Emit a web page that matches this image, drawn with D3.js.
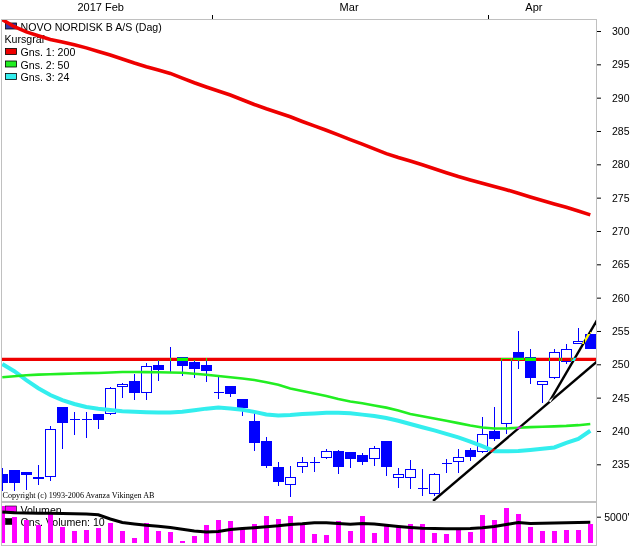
<!DOCTYPE html>
<html><head><meta charset="utf-8">
<script src="https://cdn.jsdelivr.net/npm/d3@7"></script>
<style>
html,body{margin:0;padding:0;background:#fff;}
svg{display:block;}
text{font-family:"Liberation Sans",Arial,sans-serif;fill:#000;}
</style></head><body>
<svg id="c" width="632" height="547"></svg>
<script>
// ---------- data ----------
const dates = ["2017-02-03","2017-02-06","2017-02-07","2017-02-08","2017-02-09","2017-02-10","2017-02-13","2017-02-14","2017-02-15","2017-02-16","2017-02-17","2017-02-20","2017-02-21","2017-02-22","2017-02-23","2017-02-24","2017-02-27","2017-02-28",
"2017-03-01","2017-03-02","2017-03-03","2017-03-06","2017-03-07","2017-03-08","2017-03-09","2017-03-10","2017-03-13","2017-03-14","2017-03-15","2017-03-16","2017-03-17","2017-03-20","2017-03-21","2017-03-22","2017-03-23","2017-03-24","2017-03-27","2017-03-28","2017-03-29","2017-03-30","2017-03-31",
"2017-04-03","2017-04-04","2017-04-05","2017-04-06","2017-04-07","2017-04-10","2017-04-11","2017-04-12","2017-04-18"];
const open  = [233.55,234.15,233.8,233.0,233.3,243.55,241.8,241.8,242.55,242.75,246.75,247.5,245.9,249.9,248.9,251.05,250.3,249.9,245.9,246.75,244.8,241.5,238.5,234.65,232.1,234.8,235.4,236.15,237.0,236.8,236.4,235.9,238.5,233.15,233.15,231.5,230.75,235.15,235.55,237.15,237.05,240.05,241.15,251.8,251.05,247.05,248.05,250.5,253.15,254.5];
const high  = [234.45,234.2,233.8,234.85,240.75,243.55,242.8,242.8,242.55,246.55,247.25,248.6,250.25,250.65,252.55,251.1,250.65,250.9,248.05,246.8,244.85,242.75,239.15,235.4,234.75,236.15,236.15,237.3,237.15,236.85,236.65,237.75,238.55,234.5,235.65,234.25,233.7,235.75,237.25,237.4,242.15,243.55,250.9,255.0,252.25,247.55,252.25,253.05,255.4,254.9];
const low   = [231.15,231.15,231.25,232.05,232.65,237.4,239.5,239.15,240.4,242.6,245.05,244.75,244.75,247.6,248.9,248.4,248.15,247.55,244.9,245.25,242.4,237.15,234.65,231.9,230.25,233.9,233.95,235.9,233.75,234.65,235.05,234.9,233.4,231.65,231.4,230.4,230.4,233.8,233.9,235.65,236.9,238.65,239.75,249.4,247.15,244.4,247.9,250.15,253.15,252.4];
const close = [232.4,232.4,233.5,233.05,240.25,241.4,241.8,241.8,241.75,246.4,247.05,245.9,249.75,249.3,248.9,249.9,249.5,249.15,245.9,245.75,243.65,238.4,234.9,232.5,233.1,235.4,235.4,237.0,234.75,236.0,235.55,237.5,234.75,233.5,234.3,231.5,233.55,235.15,236.05,236.3,239.5,238.9,250.9,250.75,248.05,247.5,251.8,252.25,253.55,252.4];

const ma200 = [301.71,300.64,299.86,299.3,298.74,298.34,297.94,297.47,296.93,296.39,295.79,295.19,294.64,294.14,293.64,292.94,292.23,291.59,290.99,290.39,289.68,288.98,288.33,287.73,287.13,286.43,285.77,285.11,284.42,283.71,283.02,282.32,281.61,281.02,280.49,279.93,279.33,278.73,278.17,277.66,277.16,276.68,276.2,275.66,275.1,274.56,274.05,273.56,273.0,272.42];
const ma50  = [248.06,248.22,248.37,248.45,248.5,248.57,248.63,248.67,248.7,248.78,248.85,248.84,248.82,248.81,248.78,248.73,248.58,248.43,248.25,248.07,247.86,247.65,247.31,246.95,246.38,246.0,245.63,245.25,244.8,244.43,244.16,243.83,243.5,243.08,242.55,242.2,241.87,241.54,241.18,240.82,240.51,240.37,240.37,240.49,240.57,240.64,240.69,240.76,240.87,241.05];
const ma24  = [250.05,248.96,247.62,246.42,245.39,244.64,244.05,243.6,243.33,243.15,242.97,242.9,242.82,242.76,242.78,242.88,243.12,243.35,243.51,243.38,243.18,242.87,242.46,242.33,242.4,242.54,242.63,242.72,242.72,242.66,242.45,242.24,241.95,241.53,241.04,240.56,240.08,239.57,239.03,238.41,237.71,236.97,236.96,237.0,237.15,237.32,237.53,238.2,238.82,240.03];

const volume = [7000,5000,4360,3390,5970,3060,2290,2420,2870,3720,2290,810,3720,2290,2090,290,1320,3390,4360,4170,2870,3590,5190,4550,5190,3390,1650,1450,4170,2290,5190,1900,3390,3060,3590,3590,1900,1650,2420,2090,5330,4360,6630,5520,3060,2290,2290,2420,2420,3590];
const volMA  = [5910,5775,5717,5680,5660,5600,5562,5504,5368,4554,3876,3585,3333,3140,2888,2558,2229,2035,2112,2520,2713,2868,3062,3236,3469,3624,3837,3837,3682,3527,3682,3585,3333,3100,2907,2752,2713,2674,2674,2713,2849,3100,3488,3876,3682,3740,3779,3818,3857,3915];

const priceTicks = [300,295,290,285,280,275,270,265,260,255,250,245,240,235];
const volTicks = [5000];
const monthNames = ["2017 Feb","Mar","Apr"];
const monthLabelAt = [8.2, 28.9, 44.3];
const monthBreaks = [17.5, 40.5];
const levelLine = 250.75;
const trendA = [[35.9,229.5],[49.55,250.4]];
const trendB = [[45.6,244.4],[49.55,256.6]];
const legendMain = [
  {label:"NOVO NORDISK B A/S (Dag)", color:"#3434a8"},
  {label:"Kursgraf", color:null},
  {label:"Gns. 1: 200", color:"#ee0000"},
  {label:"Gns. 2: 50", color:"#22ee22"},
  {label:"Gns. 3: 24", color:"#33eeee"}
];
const legendVol = [
  {label:"Volumen", color:"#ff00ff"},
  {label:"Gns. Volumen: 10", color:"#000000"}
];

// ---------- scales ----------
const svg = d3.select("#c");
svg.append("rect").attr("width",632).attr("height",547).attr("fill","#fff");

const x = d3.scaleLinear().domain([0, dates.length-1]).range([2.3, 590.3]);
const y = d3.scaleLinear().domain([235,300]).range([464.3,31]);
const yv = d3.scaleLinear().domain([0,5000]).range([542.5,516.7]);

const defs = svg.append("defs");
defs.append("clipPath").attr("id","cp").append("rect").attr("x",2).attr("y",20).attr("width",594).attr("height",481);
defs.append("clipPath").attr("id","cv").append("rect").attr("x",2).attr("y",503).attr("width",594).attr("height",42);

// ---------- frames ----------
svg.append("rect").attr("x",1.5).attr("y",19.5).attr("width",595).attr("height",482)
  .attr("fill","none").attr("stroke","#c0c0c0");
svg.append("rect").attr("x",1.5).attr("y",502.5).attr("width",595).attr("height",43)
  .attr("fill","none").attr("stroke","#c0c0c0");

// ---------- top month axis ----------
const gTop = svg.append("g");
gTop.selectAll("line").data(monthBreaks).join("line")
  .attr("x1", d => Math.round(x(d))+0.5).attr("x2", d => Math.round(x(d))+0.5)
  .attr("y1",15).attr("y2",19).attr("stroke","#000");
gTop.selectAll("text").data(monthNames).join("text")
  .attr("x",(d,k)=>x(monthLabelAt[k])).attr("y",11)
  .attr("text-anchor","middle").style("font-size","11px").text(d=>d);

// ---------- right axes ----------
const axP = svg.append("g").attr("transform","translate(597,0)")
  .call(d3.axisRight(y).tickValues(priceTicks).tickSize(4).tickFormat(d3.format("d")));
axP.select(".domain").remove();
axP.selectAll("text").attr("x",32.5).attr("text-anchor","end").style("font-size","10.5px")
  .style("font-family","'Liberation Sans',Arial,sans-serif").attr("fill","#000");
const axV = svg.append("g").attr("transform","translate(597,0)")
  .call(d3.axisRight(yv).tickValues(volTicks).tickSize(4).tickFormat(d => d+"'"));
axV.select(".domain").remove();
axV.selectAll("text").attr("x",32.5).attr("text-anchor","end").style("font-size","10.5px")
  .style("font-family","'Liberation Sans',Arial,sans-serif").attr("fill","#000");

// ---------- legends ----------
const gL = svg.append("g");
const rowY = [30.5, 43.3, 56, 68.5, 81];
legendMain.forEach((d,k)=>{
  if (d.color) {
    gL.append("rect").attr("x",5.5).attr("y",rowY[k]-7.5).attr("width",11).attr("height",6)
      .attr("fill",d.color).attr("stroke","#000").attr("stroke-width",0.8);
  }
  gL.append("text").attr("x", d.color ? 20.5 : 4.5).attr("y",rowY[k])
    .style("font-size","10.6px").text(d.label);
});
const rowYV = [513.5, 526];
legendVol.forEach((d,k)=>{
  gL.append("rect").attr("x",5.5).attr("y",rowYV[k]-7.5).attr("width",11).attr("height",6)
    .attr("fill",d.color).attr("stroke","#000").attr("stroke-width",0.6);
  gL.append("text").attr("x",20.5).attr("y",rowYV[k]).style("font-size","10.6px").text(d.label);
});
svg.append("text").attr("x",2.5).attr("y",497.5)
  .style("font-family","'Liberation Serif','Times New Roman',serif").style("font-size","9px")
  .attr("textLength",152).attr("lengthAdjust","spacingAndGlyphs")
  .text("Copyright (c) 1993-2006 Avanza Vikingen AB");

// ---------- candles ----------
const candles = dates.map((d,i)=>({i, o:open[i], h:high[i], l:low[i], c:close[i]}));
const gC = svg.append("g").attr("clip-path","url(#cp)");
gC.selectAll("line.wick").data(candles).join("line").attr("class","wick")
  .attr("x1", d => Math.round(x(d.i))+0.5).attr("x2", d => Math.round(x(d.i))+0.5)
  .attr("y1", d => Math.round(y(d.h))).attr("y2", d => Math.round(y(d.l))+1)
  .attr("stroke","#0000ff").attr("stroke-width",1);
gC.selectAll("path.body").data(candles).join("path").attr("class","body")
  .attr("d", d => {
    const cx = Math.round(x(d.i));
    const t = Math.round(y(Math.max(d.o,d.c)))+0.5, b = Math.round(y(Math.min(d.o,d.c)))+0.5;
    return `M${cx-4.5},${t}H${cx+5.5}V${b}H${cx-4.5}Z`;
  })
  .attr("fill", d => d.c < d.o ? "#0000ff" : "#ffffff")
  .attr("stroke","#0000ff").attr("stroke-width",1).attr("shape-rendering","crispEdges");

// ---------- moving averages ----------
const line = d3.line().x((d,i)=>x(i)).y(d=>y(d));
const gM = svg.append("g").attr("clip-path","url(#cp)");
gM.append("path").attr("d",line(ma24)).attr("fill","none").attr("stroke","#33eeee").attr("stroke-width",4);
gM.append("path").attr("d",line(ma50)).attr("fill","none").attr("stroke","#22ee22").attr("stroke-width",2.6);
gM.append("path").attr("d",line(ma200)).attr("fill","none").attr("stroke","#ee0000").attr("stroke-width",3.6);

// ---------- volume ----------
const gV = svg.append("g").attr("clip-path","url(#cv)");
gV.selectAll("rect").data(volume).join("rect")
  .attr("x",(d,i)=>Math.round(x(i))-2).attr("width",5)
  .attr("y",d=>Math.round(yv(d))).attr("height",d=>Math.round(yv(0))-Math.round(yv(d)))
  .attr("fill","#ff00ff").attr("shape-rendering","crispEdges");
gV.append("path").attr("d", d3.line().x((d,i)=>x(i)).y(d=>yv(d))(volMA))
  .attr("fill","none").attr("stroke","#000").attr("stroke-width",3);

// ---------- user-drawn lines (inverting pen) ----------
svg.append("line").attr("clip-path","url(#cp)")
  .attr("x1",1).attr("x2",597).attr("y1",y(levelLine)).attr("y2",y(levelLine))
  .attr("stroke","#11ffff").attr("stroke-width",3.2).style("mix-blend-mode","difference");
[trendA, trendB].forEach(t=>{
  svg.append("line").attr("clip-path","url(#cp)")
    .attr("x1",x(t[0][0])).attr("y1",y(t[0][1])).attr("x2",x(t[1][0])).attr("y2",y(t[1][1]))
    .attr("stroke","#ffffff").attr("stroke-width",2.4).style("mix-blend-mode","difference");
});
</script>
</body></html>
